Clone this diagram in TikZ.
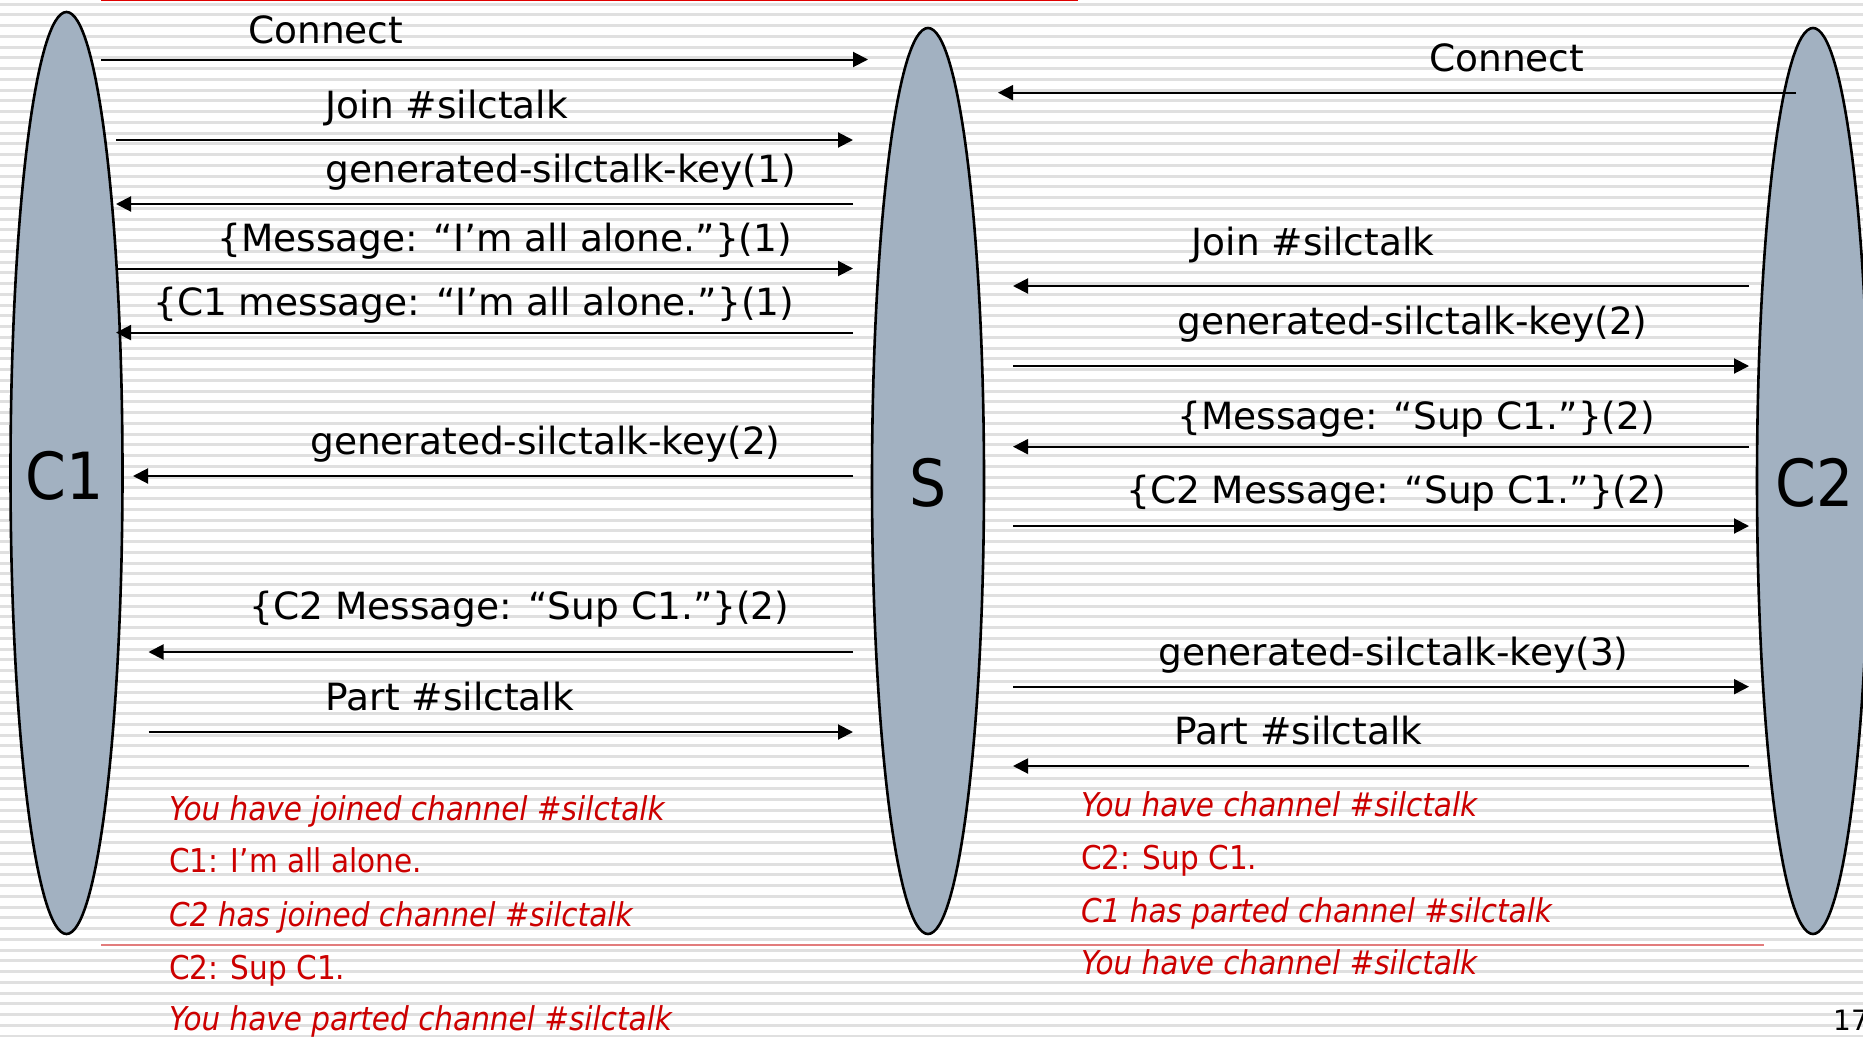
\documentclass[tikz,border=0pt]{standalone}
\usepackage{fontspec}
\setmainfont{DejaVu Sans}
\newfontfamily\notefont{DejaVu Sans Condensed}
\usetikzlibrary{arrows.meta,shapes.geometric}

\definecolor{lifefill}{HTML}{A2B1C1}
\definecolor{notered}{HTML}{CC0000}
\definecolor{ruletop}{HTML}{E00000}
\definecolor{rulebottom}{HTML}{E27C7C}

% one message: id, from x, to x, y, label west x, label baseline y, label text
\newcommand\sendmsg[7]{%
  \coordinate (#1-from) at (#2,#4);
  \coordinate (#1-to) at (#3,#4);
  \draw[msgarrow] (#1-from) -- (#1-to);
  \node[msglabel] (#1-label) at (#5,#6) {#7};
}

\begin{document}
\begin{tikzpicture}[x=1pt,y=-1pt,
  stripe/.style={draw=black!12, line width=3pt},
  lifeline/.style={ellipse, draw=black, line width=2.6pt, fill=lifefill,
    inner sep=0pt, outer sep=0pt, minimum width=112pt},
  lifename/.style={anchor=base, inner sep=0pt, font=\notefont\fontsize{65}{68}\selectfont},
  msgarrow/.style={draw=black, line width=2pt, -{Triangle[length=15pt,width=15pt]}},
  msglabel/.style={anchor=base west, inner sep=0pt, font=\fontsize{37.5}{40}\selectfont},
  note/.style={anchor=base west, inner sep=0pt, text=notered,
    font=\notefont\fontsize{32.8}{34}\selectfont},
  noteit/.style={note, font=\notefont\itshape\fontsize{32.8}{34}\selectfont},
]
\useasboundingbox (0,0) rectangle (1863,1036);
\clip (0,0) rectangle (1863,1036);

% striped background
\fill[white] (0,0) rectangle (1863,1036);
\foreach \k in {0,...,96} \draw[stripe] (0,4+\k*10.75) -- (1863,4+\k*10.75);

% rules
\draw[ruletop, line width=1.5pt] (101,0.5) -- (1078,0.5);
\draw[rulebottom, line width=2pt] (101,945) -- (1764,945);

% lifelines
\node[lifeline, minimum height=922pt] (C1) at (66.5,473) {};
\node[lifeline, minimum height=906pt] (S) at (928,481) {};
\node[lifeline, minimum height=906pt] (C2) at (1813,481) {};
\node[lifename] (C1-name) at (65,499) {C1};
\node[lifename] (S-name) at (928,506) {S};
\node[lifename] (C2-name) at (1814.5,506.5) {C2};

% C1 <-> S
\sendmsg{m1}{101}{868}{59.5}{248}{43.7}{Connect}
\sendmsg{m2}{116}{853}{140}{325.5}{118.5}{Join \#silctalk}
\sendmsg{m3}{853}{116}{204}{325.5}{182.7}{generated-silctalk-key(1)}
\sendmsg{m4}{116}{853}{268.5}{217}{251.6}{\{Message: “I’m all alone.”\}(1)}
\sendmsg{m5}{853}{116}{332.6}{153}{315.8}{\{C1 message: “I’m all alone.”\}(1)}
\sendmsg{m6}{853}{133}{476}{310}{454.7}{generated-silctalk-key(2)}
\sendmsg{m7}{853}{148.5}{652}{249.5}{619.9}{\{C2 Message: “Sup C1.”\}(2)}
\sendmsg{m8}{148.5}{853}{732}{325.5}{710.2}{Part \#silctalk}

% S <-> C2
\sendmsg{n1}{1796}{998}{92.7}{1429}{71}{Connect}
\sendmsg{n2}{1749}{1013}{286}{1191.6}{255.2}{Join \#silctalk}
\sendmsg{n3}{1013}{1749}{366}{1177}{334.8}{generated-silctalk-key(2)}
\sendmsg{n4}{1749}{1013}{446.7}{1177}{429.8}{\{Message: “Sup C1.”\}(2)}
\sendmsg{n5}{1013}{1749}{526}{1126}{503.5}{\{C2 Message: “Sup C1.”\}(2)}
\sendmsg{n6}{1013}{1749}{686.7}{1158}{665}{generated-silctalk-key(3)}
\sendmsg{n7}{1749}{1013}{766}{1174}{744.6}{Part \#silctalk}

% client screens
\node[noteit] (l1) at (169,820) {You have joined channel \#silctalk};
\node[note]   (l2) at (169,872) {C1: I’m all alone.};
\node[noteit] (l3) at (169,926) {C2 has joined channel \#silctalk};
\node[note]   (l4) at (169,979) {C2: Sup C1.};
\node[noteit] (l5) at (169,1030) {You have parted channel \#silctalk};

\node[noteit] (r1) at (1081,816.5) {You have channel \#silctalk};
\node[note]   (r2) at (1081,869) {C2: Sup C1.};
\node[noteit] (r3) at (1081,922) {C1 has parted channel \#silctalk};
\node[noteit] (r4) at (1081,974.5) {You have channel \#silctalk};

% page number
\node[anchor=base west, inner sep=0pt, font=\fontsize{28}{30}\selectfont] (pagenum) at (1833,1030) {17};
\end{tikzpicture}
\end{document}
